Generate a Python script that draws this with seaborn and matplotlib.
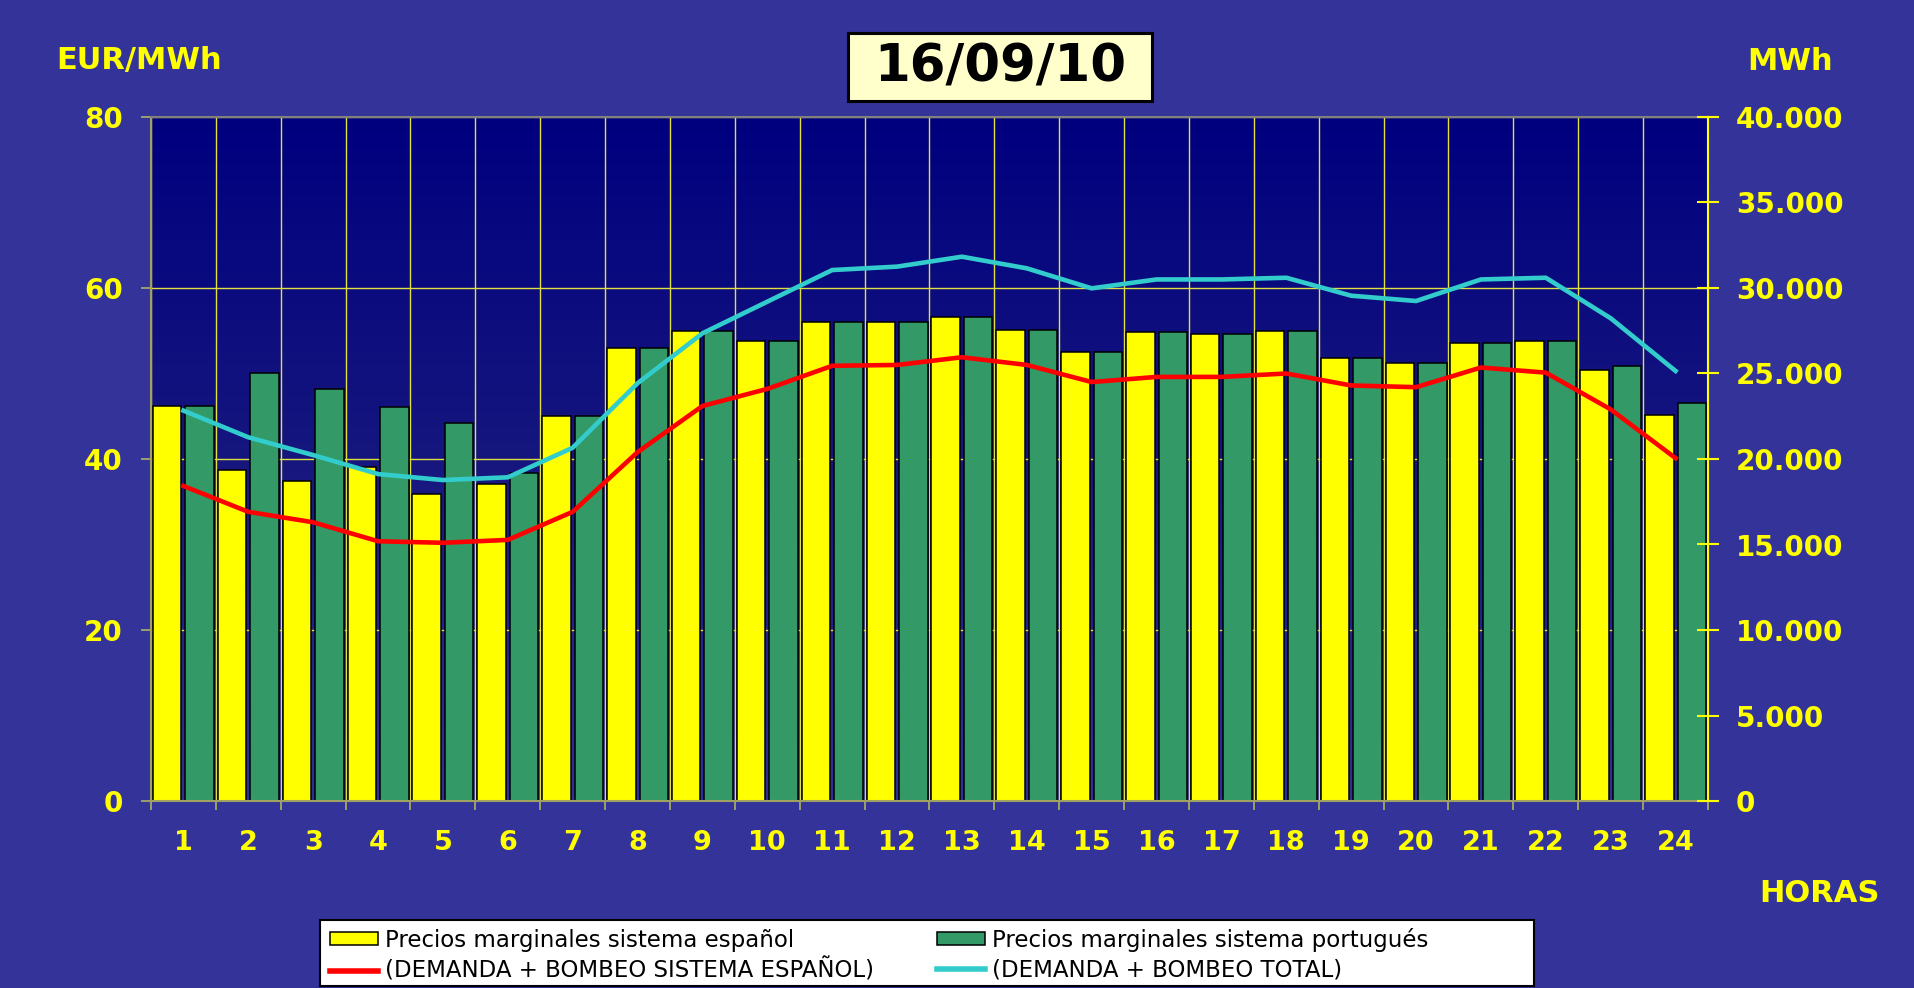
import numpy as np
import pandas as pd
import matplotlib
matplotlib.use("Agg")
import matplotlib.pyplot as plt
from matplotlib.colors import LinearSegmentedColormap
from matplotlib.patches import Rectangle, Patch
from matplotlib.lines import Line2D
from matplotlib.ticker import FixedLocator, FuncFormatter
import seaborn as sns

# hourly data
horas = [str(h) for h in range(1, 25)]
precio_es = [46.2, 38.7, 37.4, 39.1, 35.9, 37.1, 45.0, 53.0, 55.0, 53.8, 56.0, 56.0,
             56.6, 55.1, 52.55, 54.8, 54.65, 55.0, 51.8, 51.2, 53.6, 53.8, 50.45, 45.2]
precio_pt = [46.2, 50.0, 48.15, 46.1, 44.2, 38.4, 45.0, 53.0, 55.0, 53.8, 56.0, 56.0,
             56.6, 55.1, 52.55, 54.8, 54.65, 55.0, 51.8, 51.2, 53.6, 53.8, 50.9, 46.55]
demanda_es = [18420, 16910, 16300, 15190, 15100, 15270, 16910, 20400, 23100, 24100, 25450, 25500,
              25950, 25500, 24500, 24800, 24800, 25000, 24300, 24200, 25350, 25050, 22900, 20050]
demanda_total = [22830, 21270, 20230, 19120, 18770, 18930, 20660, 24430, 27350, 29200, 31050, 31250,
                 31830, 31150, 29980, 30500, 30500, 30600, 29550, 29240, 30500, 30600, 28230, 25150]

lbl_es = "Precios marginales sistema español"
lbl_pt = "Precios marginales sistema portugués"
lbl_dem_es = "(DEMANDA + BOMBEO SISTEMA ESPAÑOL)"
lbl_dem_tot = "(DEMANDA + BOMBEO TOTAL)"

BG = "#333399"
YELLOW = "#ffff00"
GREEN = "#339966"
CYAN = "#33cccc"
GRID = "#e0e040"

df = pd.DataFrame({
    "hora": horas * 2,
    "precio": precio_es + precio_pt,
    "sistema": [lbl_es] * len(horas) + [lbl_pt] * len(horas),
})

W, H = 1914, 988
fig = plt.figure(figsize=(W / 100, H / 100), dpi=100, facecolor=BG)
ax = fig.add_axes([151 / W, 1 - 801 / H, 1557 / W, 684 / H])

sns.barplot(data=df, x="hora", y="precio", hue="sistema", order=horas,
            palette=[YELLOW, GREEN], saturation=1, width=1.0, gap=0.12,
            edgecolor="black", linewidth=1.1, legend=False, ax=ax, zorder=2)

# plot area gradient (dark navy at top, lighter towards the bottom)
cmap = LinearSegmentedColormap.from_list("bg", ["#30309a", "#16167e", "#000080"])
grad = np.linspace(0, 1, 256).reshape(-1, 1)
ax.imshow(grad, extent=[-0.5, len(horas) - 0.5, 0, 80], origin="lower", aspect="auto",
          cmap=cmap, zorder=0)

ax.set_xlim(-0.5, len(horas) - 0.5)
ax.set_ylim(0, 80)
ax.set_yticks([0, 20, 40, 60, 80])
ax.set_xlabel("")
ax.set_ylabel("")
ax.set_axisbelow(True)
ax.xaxis.set_minor_locator(FixedLocator(np.arange(-0.5, len(horas), 1)))
ax.grid(which="minor", axis="x", color=GRID, lw=1)
ax.grid(which="major", axis="y", color=GRID, lw=1)
ax.grid(which="major", axis="x", visible=False)

ax.tick_params(axis="y", colors="#b0b060", length=7.5, width=1.2, pad=13,
               labelcolor=YELLOW, labelsize=20)
ax.tick_params(axis="x", which="major", length=0, pad=21, labelcolor=YELLOW, labelsize=19.5)
ax.tick_params(axis="x", which="minor", length=6.5, width=1.2, colors="#b0b060")
for lab in ax.get_yticklabels() + ax.get_xticklabels():
    lab.set_fontweight("bold")

for s in ["left", "bottom"]:
    ax.spines[s].set_color("#a0a060")
    ax.spines[s].set_linewidth(1.5)
ax.spines["top"].set_color("#808080")
ax.spines["top"].set_linewidth(1.5)
ax.spines["right"].set_visible(False)

# demand lines on the right axis
ax2 = ax.twinx()
pos = np.arange(len(horas))
sns.lineplot(x=pos, y=demanda_es, ax=ax2, color="#ff0000", lw=3.3)
sns.lineplot(x=pos, y=demanda_total, ax=ax2, color=CYAN, lw=3.3)
ax2.set_xlim(-0.5, len(horas) - 0.5)
ax2.set_ylim(0, 40000)
ax2.set_yticks(np.arange(0, 40001, 5000))
ax2.yaxis.set_major_formatter(FuncFormatter(lambda v, p: f"{int(v):,}".replace(",", ".")))
ax2.tick_params(axis="y", direction="inout", length=16, width=1.5, colors=YELLOW,
                pad=12, labelsize=20)
for lab in ax2.get_yticklabels():
    lab.set_fontweight("bold")
for s in ["left", "top", "bottom"]:
    ax2.spines[s].set_visible(False)
ax2.spines["right"].set_color(YELLOW)
ax2.spines["right"].set_linewidth(1.5)
ax2.set_ylabel("")

# axis captions
fig.text(56 / W, 1 - 61 / H, "EUR/MWh", color=YELLOW, fontsize=22, fontweight="bold",
         ha="left", va="center")
fig.text(1747 / W, 1 - 61 / H, "MWh", color=YELLOW, fontsize=22, fontweight="bold",
         ha="left", va="center")
fig.text(1759 / W, 1 - 893 / H, "HORAS", color=YELLOW, fontsize=22, fontweight="bold",
         ha="left", va="center")

# date box
fig.patches.append(Rectangle((848 / W, 1 - 101 / H), 304 / W, 68 / H, transform=fig.transFigure,
                             facecolor="#ffffcc", edgecolor="black", lw=2.2, zorder=5))
fig.text(1000 / W, 1 - 68 / H, "16/09/10", color="black", fontsize=37, fontweight="heavy",
         ha="center", va="center", zorder=6)

# legend box
fig.patches.append(Rectangle((320 / W, 2 / H), 1214 / W, 66 / H, transform=fig.transFigure,
                             facecolor="white", edgecolor="black", lw=1.5, zorder=5))
handles = [
    Patch(facecolor=YELLOW, edgecolor="black", lw=1.1, label=lbl_es),
    Line2D([], [], color="#ff0000", lw=4, label=lbl_dem_es),
    Patch(facecolor=GREEN, edgecolor="black", lw=1.1, label=lbl_pt),
    Line2D([], [], color=CYAN, lw=4, label=lbl_dem_tot),
]
leg = fig.legend(handles=handles, ncol=2, loc="upper left", bbox_to_anchor=(324 / W, 1 - 922 / H),
                 frameon=False, fontsize=16.5, handlelength=2.1, handleheight=0.5,
                 handletextpad=0.3, columnspacing=2.75, labelspacing=0.3, borderpad=0.25,
                 borderaxespad=0)
leg.set_zorder(6)

fig.savefig("out.png", dpi=100, facecolor=BG)
